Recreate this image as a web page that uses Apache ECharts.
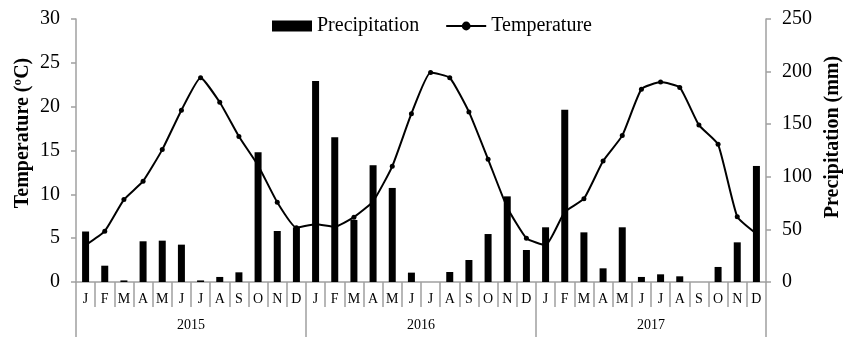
<!DOCTYPE html>
<html>
<head>
<meta charset="utf-8">
<script src="https://cdn.jsdelivr.net/npm/echarts@6/dist/echarts.min.js"></script>
<style>html,body{margin:0;padding:0;background:#fff}#c{width:853px;height:337px}</style>
</head>
<body>
<div id="c"></div>
<script>
const months = ['J','F','M','A','M','J','J','A','S','O','N','D','J','F','M','A','M','J','J','A','S','O','N','D','J','F','M','A','M','J','J','A','S','O','N','D'];
const years = ['2015','2016','2017'];
const precipitation = [48, 15.5, 1.5, 38.7, 39.3, 35.5, 1.5, 4.8, 9.2, 123.3, 48.5, 52,
                       191, 137.5, 59, 111, 89.4, 8.9, 0, 9.5, 20.9, 45.6, 81.4, 30.4,
                       52, 163.8, 47.2, 13, 52, 4.8, 7.3, 5.4, 0, 14.3, 37.7, 110.3];
const temperature = [4.2, 5.8, 9.4, 11.5, 15.1, 19.6, 23.3, 20.5, 16.6, 13.3, 9.1, 6.2,
                     6.6, 6.3, 7.4, 9.2, 13.2, 19.2, 23.9, 23.3, 19.4, 14.0, 8.5, 5.0,
                     4.2, 8.0, 9.5, 13.8, 16.7, 22.0, 22.8, 22.2, 17.9, 15.7, 7.45, 5.5];
const tempTicks = {min: 0, max: 30, interval: 5};
const precTicks = {min: 0, max: 250, interval: 50};

const FONT = 'Liberation Serif';
const GRAY = '#a0a0a0';
const chart = echarts.init(document.getElementById('c'), null, {renderer: 'canvas'});
chart.setOption({
  animation: false,
  backgroundColor: '#fff',
  textStyle: {fontFamily: FONT, color: '#000'},
  legend: {
    top: 11, left: 267, itemGap: 26, itemWidth: 40, itemHeight: 11,
    textStyle: {fontFamily: FONT, fontSize: 20, color: '#000'},
    data: [{name: 'Precipitation', icon: 'rect'}, {name: 'Temperature'}]
  },
  grid: {left: 76, right: 87, top: 19, bottom: 55, containLabel: false},
  xAxis: [{
    type: 'category', data: months, position: 'bottom',
    axisLine: {show: true, lineStyle: {color: GRAY, width: 1.5}},
    axisTick: {show: true, interval: 0, length: 25, lineStyle: {color: GRAY, width: 1.5}},
    axisLabel: {interval: 0, margin: 10, fontFamily: FONT, fontSize: 14, color: '#000'}
  }, {
    type: 'category', data: years, position: 'bottom',
    axisLine: {show: false},
    axisTick: {show: true, interval: 0, length: 55, lineStyle: {color: GRAY, width: 1.5}},
    axisLabel: {interval: 0, margin: 36, fontFamily: FONT, fontSize: 14, color: '#000'}
  }],
  yAxis: [{
    type: 'value', position: 'left', min: tempTicks.min, max: tempTicks.max, interval: tempTicks.interval,
    splitLine: {show: false},
    axisLine: {show: true, lineStyle: {color: GRAY, width: 1.5}},
    axisTick: {show: true, length: 5, lineStyle: {color: GRAY, width: 1.5}},
    axisLabel: {margin: 16, fontFamily: FONT, fontSize: 20, color: '#000'}
  }, {
    type: 'value', position: 'right', min: precTicks.min, max: precTicks.max, interval: precTicks.interval,
    splitLine: {show: false},
    axisLine: {show: true, lineStyle: {color: GRAY, width: 1.5}},
    axisTick: {show: true, length: 5, lineStyle: {color: GRAY, width: 1.5}},
    axisLabel: {margin: 16, fontFamily: FONT, fontSize: 20, color: '#000'}
  }],
  graphic: [{
    type: 'text', x: 23, y: 133, rotation: Math.PI / 2,
    style: {text: 'Temperature (ºC)', font: 'bold 20px "Liberation Serif"', fill: '#000', align: 'center', verticalAlign: 'middle'}
  }, {
    type: 'text', x: 833, y: 137, rotation: Math.PI / 2,
    style: {text: 'Precipitation (mm)', font: 'bold 20px "Liberation Serif"', fill: '#000', align: 'center', verticalAlign: 'middle'}
  }],
  series: [{
    name: 'Precipitation', type: 'bar', xAxisIndex: 0, yAxisIndex: 1,
    data: precipitation, barWidth: 7, itemStyle: {color: '#000'}
  }, {
    name: 'Temperature', type: 'line', xAxisIndex: 0, yAxisIndex: 0,
    data: temperature, smooth: 0.15, symbol: 'circle', symbolSize: 5,
    lineStyle: {color: '#000', width: 2}, itemStyle: {color: '#000'}
  }]
});
</script>
</body>
</html>
